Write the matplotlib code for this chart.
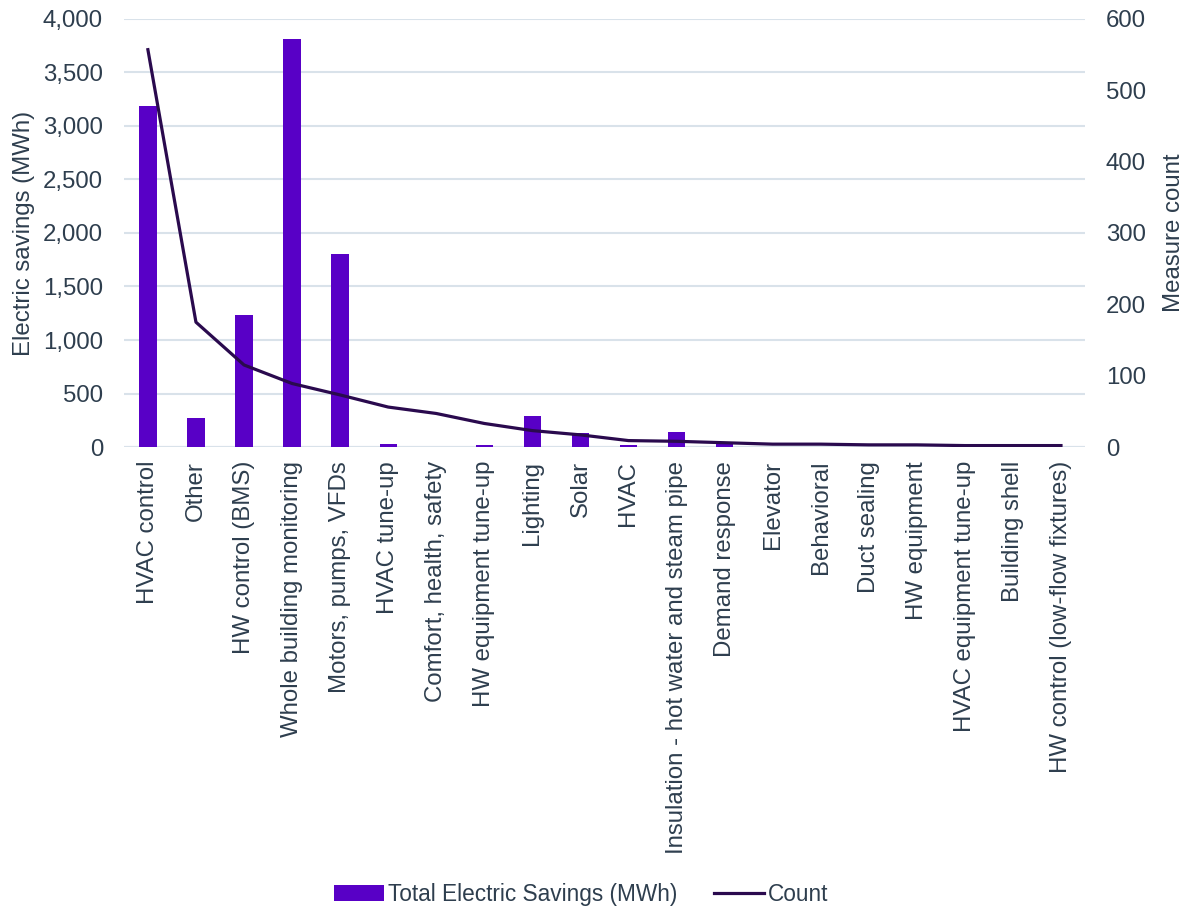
import matplotlib.pyplot as plt
from matplotlib.ticker import FuncFormatter

categorias = [
  "HVAC control", "Other", "HW control (BMS)", "Whole building monitoring",
  "Motors, pumps, VFDs", "HVAC tune-up", "Comfort, health, safety",
  "HW equipment tune-up", "Lighting", "Solar", "HVAC",
  "Insulation - hot water and steam pipe", "Demand response", "Elevator",
  "Behavioral", "Duct sealing", "HW equipment", "HVAC equipment tune-up",
  "Building shell", "HW control (low-flow fixtures)",
]
economia_mwh = [3185, 270, 1230, 3810, 1800, 25, 0, 18, 290, 135, 15,
                140, 45, 0, 0, 4, -15, 0, 0, 0]
contagem = [557, 175, 115, 89, 73, 56, 47, 33, 23, 17, 9,
            8, 6, 4, 4, 3, 3, 2, 2, 2]

COR_BARRA = "#5800C6"
COR_LINHA = "#2A0A4E"
COR_TEXTO = "#2E3E4E"
COR_GRADE = "#D9E2EA"

plt.rcParams["font.family"] = ["Liberation Sans", "DejaVu Sans"]

fig = plt.figure(figsize=(11.91, 9.13), dpi=100)
ax = fig.add_axes([0.104, 0.5104, 0.807, 0.4688])
ax2 = ax.twinx()

x = list(range(len(categorias)))
ax.bar(x, economia_mwh, width=0.36, color=COR_BARRA, zorder=2,
       label="Total Electric Savings (MWh)")
ax2.plot(x, contagem, color=COR_LINHA, linewidth=2.3, zorder=3,
         label="Count")

ax.set_xlim(-0.5, len(categorias) - 0.5)
ax.set_ylim(0, 4000)
ax.set_yticks(range(0, 4001, 500))
ax.yaxis.set_major_formatter(FuncFormatter(lambda v, p: f"{int(v):,}"))
ax2.set_ylim(0, 600)
ax2.set_yticks(range(0, 601, 100))

ax.grid(axis="y", color=COR_GRADE, linewidth=1.5, zorder=0)
ax.set_axisbelow(True)
for a in (ax, ax2):
  for s in a.spines.values():
    s.set_visible(False)
  a.tick_params(length=0, labelsize=17.3, colors=COR_TEXTO, pad=15)

ax.set_xticks(x)
ax.set_xticklabels(categorias, rotation=90)
ax.tick_params(axis="x", pad=10)
ax.axhline(0, color=COR_GRADE, linewidth=1.5, zorder=1)

ax.set_ylabel("Electric savings (MWh)", fontsize=17.3, color=COR_TEXTO, labelpad=6)
ax2.set_ylabel("Measure count", fontsize=17.3, color=COR_TEXTO, labelpad=12)

h1, l1 = ax.get_legend_handles_labels()
h2, l2 = ax2.get_legend_handles_labels()
fig.legend(h1 + h2, l1 + l2, loc="center", bbox_to_anchor=(0.488, 0.02),
           ncol=2, frameon=False, fontsize=16.3, labelcolor=COR_TEXTO,
           handlelength=2.2, handletextpad=0.2, columnspacing=1.6)

fig.savefig("out.png", dpi=100)
